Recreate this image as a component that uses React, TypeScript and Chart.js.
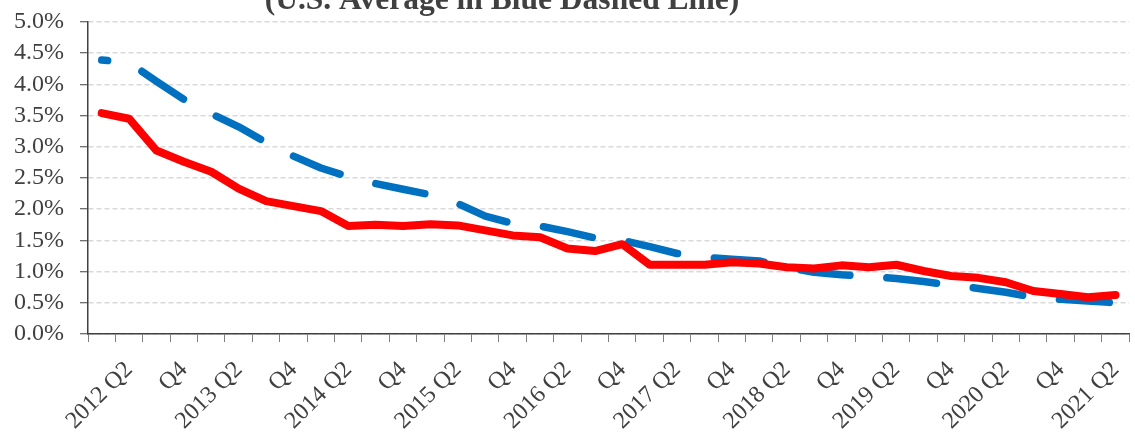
import React, { useEffect, useRef } from "react";
import { Chart, registerables } from "chart.js";

Chart.register(...registerables);

const chartTitle = "(U.S. Average in Blue Dashed Line)";

const categories = [
  "2012 Q1", "2012 Q2", "2012 Q3", "2012 Q4",
  "2013 Q1", "2013 Q2", "2013 Q3", "2013 Q4",
  "2014 Q1", "2014 Q2", "2014 Q3", "2014 Q4",
  "2015 Q1", "2015 Q2", "2015 Q3", "2015 Q4",
  "2016 Q1", "2016 Q2", "2016 Q3", "2016 Q4",
  "2017 Q1", "2017 Q2", "2017 Q3", "2017 Q4",
  "2018 Q1", "2018 Q2", "2018 Q3", "2018 Q4",
  "2019 Q1", "2019 Q2", "2019 Q3", "2019 Q4",
  "2020 Q1", "2020 Q2", "2020 Q3", "2020 Q4",
  "2021 Q1", "2021 Q2",
];

const tickLabels = [
  "", "2012 Q2", "", "Q4",
  "", "2013 Q2", "", "Q4",
  "", "2014 Q2", "", "Q4",
  "", "2015 Q2", "", "Q4",
  "", "2016 Q2", "", "Q4",
  "", "2017 Q2", "", "Q4",
  "", "2018 Q2", "", "Q4",
  "", "2019 Q2", "", "Q4",
  "", "2020 Q2", "", "Q4",
  "", "2021 Q2",
];

const stateRate = [
  3.54, 3.45, 2.94, 2.76, 2.60, 2.33, 2.13, 2.05, 1.97, 1.73,
  1.75, 1.73, 1.76, 1.74, 1.66, 1.58, 1.55, 1.37, 1.33, 1.44,
  1.11, 1.11, 1.11, 1.15, 1.13, 1.07, 1.05, 1.10, 1.07, 1.11,
  1.01, 0.93, 0.90, 0.83, 0.69, 0.64, 0.59, 0.625,
];

const usAverage = [
  4.39, 4.35, 4.05, 3.76, 3.53, 3.32, 3.07, 2.85, 2.66, 2.52,
  2.41, 2.32, 2.23, 2.09, 1.89, 1.77, 1.73, 1.64, 1.54, 1.50,
  1.40, 1.29, 1.23, 1.20, 1.17, 1.07, 0.99, 0.95, 0.92, 0.89,
  0.84, 0.785, 0.73, 0.67, 0.59, 0.555, 0.53, 0.50,
];

const FONT = '"Liberation Serif", "Times New Roman", serif';
const TEXT = "#404040";

const titlePlugin = {
  id: "clippedTitle",
  afterDraw(chart: any) {
    const ctx = chart.ctx;
    ctx.save();
    ctx.font = `bold 31.5px ${FONT}`;
    ctx.fillStyle = TEXT;
    ctx.textAlign = "center";
    ctx.textBaseline = "alphabetic";
    ctx.fillText(chartTitle, 502, 9);
    ctx.restore();
  },
};

export default function App() {
  const canvasRef = useRef<HTMLCanvasElement | null>(null);

  useEffect(() => {
    const canvas = canvasRef.current;
    if (!canvas) return;
    const chart = new Chart(canvas, {
      type: "line",
      data: {
        labels: categories,
        datasets: [
          {
            label: "State",
            data: stateRate,
            borderColor: "#FF0000",
            backgroundColor: "#FF0000",
            borderWidth: 8,
            pointRadius: 0,
            tension: 0,
            borderJoinStyle: "round",
            borderCapStyle: "round",
            fill: false,
          },
          {
            label: "U.S. Average",
            data: usAverage,
            borderColor: "#0070C0",
            backgroundColor: "#0070C0",
            borderWidth: 7.5,
            borderDash: [50, 37],
            borderDashOffset: 44,
            pointRadius: 0,
            tension: 0,
            borderJoinStyle: "round",
            borderCapStyle: "round",
            fill: false,
          },
        ],
      },
      options: {
        animation: false,
        responsive: false,
        devicePixelRatio: 1,
        layout: { padding: { left: 0, right: 11, top: 22, bottom: 0 } },
        plugins: {
          legend: { display: false },
          title: { display: false },
          tooltip: { enabled: false },
        },
        scales: {
          x: {
            type: "category",
            offset: true,
            afterFit: (s: any) => {
              s.height = 100;
            },
            grid: {
              display: true,
              offset: true,
              drawOnChartArea: false,
              drawTicks: true,
              tickLength: 8,
              tickColor: "#808080",
              tickWidth: 1,
              color: "#808080",
            },
            border: { display: true, color: "#404040", width: 1.5 },
            ticks: {
              autoSkip: false,
              maxRotation: 45,
              minRotation: 45,
              padding: 14,
              color: TEXT,
              font: { family: FONT, size: 24 },
              callback: (_v: any, i: number) => tickLabels[i],
            },
          },
          y: {
            min: 0,
            max: 5,
            afterFit: (s: any) => {
              s.width = 88;
              s.paddingTop = 0;
              s.paddingBottom = 0;
            },
            grid: {
              color: "#D9D9D9",
              lineWidth: 1.5,
              drawTicks: true,
              tickLength: 8,
              tickColor: "#404040",
              tickWidth: 1,
              tickBorderDash: [],
            },
            border: { display: true, color: "#404040", width: 1.5, dash: [5, 3] },
            ticks: {
              stepSize: 0.5,
              autoSkip: false,
              padding: 16,
              color: TEXT,
              font: { family: FONT, size: 24 },
              callback: (v: any) => Number(v).toFixed(1) + "%",
            },
          },
        },
      },
      plugins: [titlePlugin],
    } as any);
    return () => chart.destroy();
  }, []);

  return (
    <div
      style={{
        position: "absolute",
        left: 0,
        top: 0,
        width: 1135,
        height: 434,
        overflow: "hidden",
        background: "#ffffff",
      }}
    >
      <canvas
        ref={canvasRef}
        width={1150}
        height={434}
        style={{ display: "block", width: 1150, height: 434 }}
      />
    </div>
  );
}
